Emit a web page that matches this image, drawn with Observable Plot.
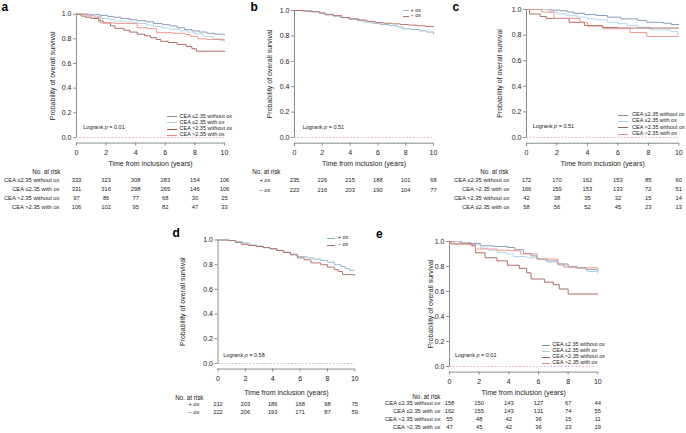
<!DOCTYPE html>
<html><head><meta charset="utf-8">
<script src="https://cdn.jsdelivr.net/npm/d3@7"></script>
<script src="https://cdn.jsdelivr.net/npm/@observablehq/plot@0.6"></script>
<style>
body{margin:0;background:#fff;}
#root{position:relative;width:686px;height:433px;overflow:hidden;font-family:'Liberation Sans',Arial,Helvetica,sans-serif;color:#222;}
.abs{position:absolute;white-space:nowrap;line-height:1;}
</style></head><body><div id="root"></div>
<script>
// ---------- shared ticks / text ----------
const timeTicks = [0, 2, 4, 6, 8, 10];
const survTicks = [0, 0.2, 0.4, 0.6, 0.8, 1.0];
const xTitle = "Time from inclusion (years)";
const yTitle = "Probability of overall survival";
const riskHeader = "No. at risk";

const groupsCEA = ["CEA ≤2.35 without ox", "CEA ≤2.35 with ox", "CEA >2.35 without ox", "CEA >2.35 with ox"];
const groupsOx = ["+ ox", "− ox"];
const colorsCEA = ["#7d92a8", "#a9d3e5", "#a15e5b", "#ef8b84"];
const colorsOx = ["#8ab3c6", "#b0695f"];

// ---------- panel a ----------
const aLeNoOx = [[0,1],[1.0,0.997],[1.6,0.99],[2.1,0.982],[2.5,0.975],[3.0,0.965],[3.6,0.955],[4.1,0.948],[4.7,0.938],[5.2,0.925],[5.8,0.915],[6.3,0.905],[6.8,0.89],[7.3,0.875],[7.8,0.865],[8.3,0.855],[8.8,0.845],[9.3,0.838],[10,0.835]];
const aLeOx = [[0,1],[0.8,0.995],[1.4,0.98],[1.7,0.965],[2.2,0.955],[2.6,0.943],[3.4,0.935],[4.1,0.925],[4.7,0.912],[5.2,0.9],[5.8,0.888],[6.3,0.878],[7.0,0.865],[7.5,0.855],[8.0,0.84],[8.6,0.82],[9.2,0.8],[9.7,0.785],[10,0.778]];
const aGtNoOx = [[0,1],[0.3,0.985],[0.6,0.975],[1.0,0.965],[1.5,0.945],[1.8,0.93],[2.3,0.905],[2.6,0.885],[3.2,0.87],[3.6,0.855],[4.1,0.838],[4.6,0.825],[5.0,0.81],[5.4,0.795],[5.7,0.78],[6.2,0.77],[6.8,0.755],[7.4,0.738],[7.8,0.72],[8.1,0.7],[10,0.698]];
const aGtOx = [[0,1],[0.7,0.987],[1.2,0.975],[1.6,0.93],[2.6,0.925],[4.1,0.89],[4.8,0.883],[5.4,0.85],[6.5,0.845],[7.4,0.835],[7.7,0.82],[8.2,0.8],[8.8,0.795],[10,0.795]];
const aRiskLabels = ["CEA ≤2.35 without ox", "CEA ≤2.35 with ox", "CEA >2.35 without ox", "CEA >2.35 with ox"];
const aRiskLeNoOx = [333, 323, 308, 283, 154, 106];
const aRiskLeOx = [331, 316, 298, 265, 146, 106];
const aRiskGtNoOx = [97, 86, 77, 68, 30, 25];
const aRiskGtOx = [106, 102, 95, 82, 47, 33];
const aP = "0.01";

// ---------- panel b ----------
const bPlusOx = [[0,1],[0.8,0.997],[1.3,0.99],[1.8,0.98],[2.2,0.965],[2.8,0.955],[3.3,0.945],[3.9,0.93],[4.5,0.92],[5.0,0.91],[5.6,0.9],[6.2,0.89],[6.8,0.88],[7.4,0.87],[7.8,0.855],[8.4,0.85],[9.0,0.84],[9.5,0.83],[10,0.815]];
const bMinusOx = [[0,1],[0.6,0.995],[1.2,0.99],[1.8,0.98],[2.2,0.97],[2.8,0.96],[3.4,0.945],[4.0,0.935],[4.6,0.925],[5.2,0.915],[5.8,0.905],[6.4,0.9],[7.0,0.895],[7.6,0.89],[8.2,0.885],[8.8,0.88],[9.4,0.875],[10,0.872]];
const bRiskPlus = [235, 226, 215, 188, 101, 68];
const bRiskMinus = [223, 216, 203, 190, 104, 77];
const bP = "0.51";

// ---------- panel c ----------
const cLeNoOx = [[0,1],[1.6,0.995],[2.2,0.99],[2.7,0.98],[3.1,0.97],[3.8,0.96],[4.6,0.953],[5.3,0.94],[6.2,0.927],[7.3,0.914],[7.9,0.9],[9.0,0.893],[9.5,0.883],[10,0.88]];
const cLeOx = [[0,1],[1.5,0.98],[2.0,0.966],[2.6,0.955],[3.3,0.94],[4.0,0.927],[4.6,0.92],[5.3,0.9],[6.0,0.89],[6.6,0.875],[7.3,0.862],[8.1,0.84],[9.5,0.83],[9.9,0.81],[10,0.81]];
const cGtNoOx = [[0,1],[0.2,0.965],[0.9,0.945],[1.3,0.93],[2.8,0.9],[3.8,0.875],[5.0,0.86],[6.0,0.855],[10,0.855]];
const cGtOx = [[0,1],[1.0,0.98],[1.8,0.93],[3.5,0.9],[4.0,0.87],[5.0,0.85],[6.8,0.82],[7.9,0.79],[10,0.79]];
const cRiskLabels = ["CEA ≤2.35 without ox", "CEA >2.35 with ox", "CEA >2.35 without ox", "CEA ≤2.35 with ox"];
const cRisk1 = [172, 170, 162, 153, 85, 60];
const cRisk2 = [166, 159, 153, 133, 72, 51];
const cRisk3 = [42, 38, 35, 32, 15, 14];
const cRisk4 = [58, 56, 52, 45, 23, 13];
const cP = "0.51";

// ---------- panel d ----------
const dPlusOx = [[0,1],[0.8,0.995],[1.3,0.985],[1.8,0.975],[2.3,0.96],[2.8,0.95],[3.3,0.94],[3.8,0.93],[4.3,0.915],[4.8,0.9],[5.3,0.885],[5.8,0.865],[6.5,0.855],[7.0,0.845],[7.5,0.835],[8.0,0.82],[8.5,0.8],[9.0,0.785],[9.3,0.77],[9.6,0.755],[10,0.755]];
const dMinusOx = [[0,1],[0.8,0.995],[1.3,0.98],[1.7,0.965],[2.2,0.955],[2.8,0.948],[3.3,0.938],[3.8,0.928],[4.3,0.915],[4.8,0.9],[5.3,0.88],[5.8,0.855],[6.3,0.84],[6.8,0.815],[7.5,0.8],[8.0,0.78],[8.5,0.76],[8.8,0.745],[9.1,0.72],[10,0.715]];
const dRiskPlus = [212, 203, 186, 168, 98, 75];
const dRiskMinus = [222, 206, 193, 171, 87, 59];
const dP = "0.58";

// ---------- panel e ----------
const eLeNoOx = [[0,1],[0.8,0.99],[1.4,0.985],[2.1,0.966],[3.0,0.96],[3.9,0.952],[4.4,0.935],[5.0,0.905],[5.5,0.885],[5.9,0.86],[6.5,0.845],[7.3,0.82],[8.0,0.8],[8.6,0.79],[9.2,0.775],[10,0.767]];
const eLeOx = [[0,1],[0.7,0.99],[1.3,0.975],[2.1,0.947],[2.6,0.93],[3.2,0.913],[3.8,0.9],[4.3,0.88],[5.2,0.87],[5.9,0.86],[6.6,0.835],[7.3,0.81],[8.0,0.795],[8.6,0.785],[9.3,0.76],[10,0.745]];
const eGtNoOx = [[0,1],[0.1,0.98],[1.5,0.966],[1.75,0.91],[2.4,0.87],[3.2,0.845],[3.9,0.81],[4.7,0.785],[5.2,0.75],[5.5,0.7],[6.4,0.675],[7.0,0.655],[7.4,0.62],[8.0,0.58],[10,0.58]];
const eGtOx = [[0,1],[0.3,0.985],[1.4,0.975],[1.75,0.94],[3.2,0.93],[4.1,0.926],[4.8,0.9],[5.9,0.86],[7.3,0.82],[7.7,0.795],[8.5,0.79],[10,0.785]];
const eRiskLeNoOx = [158, 150, 143, 127, 67, 44];
const eRiskLeOx = [162, 155, 143, 131, 74, 55];
const eRiskGtNoOx = [55, 48, 42, 36, 15, 11];
const eRiskGtOx = [47, 45, 42, 36, 23, 19];
const eP = "0.01";

// ---------- layout ----------
const W = 686, H = 433;
const FONT = "'Liberation Sans', Arial, Helvetica, sans-serif";
const yPad = 0.045;
const axisColor = "#6e6e6e";
const zeroDash = "#d9a9d6";
const root = document.getElementById("root");

const panels = [
  {letter: "a", names: groupsCEA, colors: colorsCEA,
   curves: [aLeNoOx, aLeOx, aGtNoOx, aGtOx],
   riskLabels: aRiskLabels, risk: [aRiskLeNoOx, aRiskLeOx, aRiskGtNoOx, aRiskGtOx], p: aP,
   L: {x0: 76, x10: 224, y1: 13.7, y0: 137, yLabelX: 52, titleY: 163, headerY: 171, headerRight: 60,
       rowsY: [179.5, 208], labelRight: 59, leg: {x1: 167, x2: 177, tx: 179.5, ys: [116.7, 135.3]},
       pl: {x: 83.3, y: 127.7}, lt: {x: 1.5, y: 11.2}}},
  {letter: "b", names: groupsOx, colors: colorsOx,
   curves: [bPlusOx, bMinusOx],
   riskLabels: groupsOx, risk: [bRiskPlus, bRiskMinus], p: bP,
   L: {x0: 294, x10: 433, y1: 10, y0: 137, yLabelX: 269.3, titleY: 163, headerY: 171, headerRight: 280,
       rowsY: [180, 190.5], labelRight: 270, leg: {x1: 403, x2: 409, tx: 410.5, ys: [10.7, 16]},
       pl: {x: 302.7, y: 128}, lt: {x: 250.5, y: 11}}},
  {letter: "c", names: groupsCEA, colors: colorsCEA,
   curves: [cLeNoOx, cLeOx, cGtNoOx, cGtOx],
   riskLabels: cRiskLabels, risk: [cRisk1, cRisk2, cRisk3, cRisk4], p: cP,
   L: {x0: 526, x10: 678.3, y1: 9, y0: 137, yLabelX: 499, titleY: 163, headerY: 171, headerRight: 508,
       rowsY: [179.3, 207.7], labelRight: 509, leg: {x1: 618, x2: 628, tx: 632, ys: [115, 134]},
       pl: {x: 532.7, y: 127}, lt: {x: 452.5, y: 11}}},
  {letter: "d", names: groupsOx, colors: colorsOx,
   curves: [dPlusOx, dMinusOx],
   riskLabels: groupsOx, risk: [dRiskPlus, dRiskMinus], p: dP,
   L: {x0: 217.5, x10: 354.3, y1: 239.5, y0: 363, yLabelX: 182.7, titleY: 392, headerY: 397, headerRight: 203,
       rowsY: [403.5, 412], labelRight: 199, leg: {x1: 327, x2: 335, tx: 337.7, ys: [238.3, 245]},
       pl: {x: 223.3, y: 356}, lt: {x: 172.5, y: 237.3}}},
  {letter: "e", names: groupsCEA, colors: colorsCEA,
   curves: [eLeNoOx, eLeOx, eGtNoOx, eGtOx],
   riskLabels: groupsCEA, risk: [eRiskLeNoOx, eRiskLeOx, eRiskGtNoOx, eRiskGtOx], p: eP,
   L: {x0: 449, x10: 597.3, y1: 241, y0: 366, yLabelX: 430, titleY: 392.3, headerY: 396.7, headerRight: 440,
       rowsY: [402.5, 427.5], labelRight: 440, leg: {x1: 542, x2: 550, tx: 552.3, ys: [345, 363]},
       pl: {x: 455, y: 355.7}, lt: {x: 376, y: 238.3}}}
];

function place(el) {
  el.style.position = "absolute"; el.style.left = "0px"; el.style.top = "0px";
  root.appendChild(el);
}
function div(html, x, y, size, extra) {
  const d = document.createElement("div");
  d.className = "abs";
  d.innerHTML = html;
  d.style.left = x + "px";
  d.style.top = y + "px";
  d.style.fontSize = size + "px";
  d.style.transform = "translateY(-50%)";
  if (extra) Object.assign(d.style, extra);
  root.appendChild(d);
  return d;
}
const baseStyle = {fontFamily: FONT, fontSize: "7px", color: "#222", background: "transparent", overflow: "visible"};
const tFirst = timeTicks[0], tLast = timeTicks[timeTicks.length - 1];
const sFirst = survTicks[0], sLast = survTicks[survTicks.length - 1];

for (const P of panels) {
  const L = P.L;
  const axisLineY = L.y0 + yPad * (L.y0 - L.y1);
  const pts = P.curves.flatMap((c, i) => c.map(([t, s]) => ({t, s, g: P.names[i]})));

  const chart = Plot.plot({
    width: W, height: H,
    marginLeft: L.x0, marginRight: W - L.x10, marginTop: L.y1, marginBottom: H - axisLineY,
    x: {domain: [tFirst, tLast]},
    y: {domain: [sFirst - yPad, sLast]},
    color: {domain: P.names, range: P.colors},
    style: baseStyle,
    marks: [
      Plot.ruleY([sFirst], {x1: tFirst, x2: tLast, stroke: zeroDash, strokeWidth: 0.8, strokeDasharray: "2,1.5"}),
      Plot.ruleX([tFirst], {y1: sFirst, y2: sLast, stroke: axisColor, strokeWidth: 0.8}),
      Plot.ruleY([sFirst - yPad], {x1: tFirst, x2: tLast, stroke: axisColor, strokeWidth: 0.8}),
      Plot.axisX({ticks: timeTicks, tickSize: 3, tickPadding: 3.5, label: null, stroke: axisColor, fill: "#222", strokeWidth: 0.8}),
      Plot.axisY({ticks: survTicks, tickSize: 3, tickPadding: 2, tickFormat: ".1f", label: null, stroke: axisColor, fill: "#222", strokeWidth: 0.8}),
      Plot.line(pts, {x: "t", y: "s", z: "g", stroke: "g", curve: "step-after", strokeWidth: 0.9}),
      Plot.text([xTitle], {frameAnchor: "bottom", textAnchor: "middle", lineAnchor: "middle", dy: L.titleY - axisLineY, fontSize: 7}),
      Plot.text([yTitle], {frameAnchor: "left", textAnchor: "middle", lineAnchor: "middle", rotate: -90, dx: L.yLabelX - L.x0,
        dy: (L.y1 + L.y0) / 2 - (L.y1 + axisLineY) / 2, fontSize: 7})
    ]
  });
  place(chart);

  const cells = P.risk.flatMap((r, i) => r.map((n, j) => ({t: timeTicks[j], n, g: P.riskLabels[i]})));
  const table = Plot.plot({
    width: W, height: H,
    marginLeft: L.x0, marginRight: W - L.x10, marginTop: L.rowsY[0], marginBottom: H - L.rowsY[1],
    x: {domain: [tFirst, tLast], axis: null},
    y: {type: "point", domain: P.riskLabels, padding: 0, axis: null},
    style: baseStyle,
    marks: [
      Plot.text(cells, {x: "t", y: "g", text: d => String(d.n), fontSize: 5.8}),
      Plot.text(P.riskLabels, {y: d => d, frameAnchor: "left", textAnchor: "end", lineAnchor: "middle", dx: L.labelRight - L.x0, fontSize: 5.8}),
      Plot.text([riskHeader], {frameAnchor: "top-left", textAnchor: "end", lineAnchor: "middle", dx: L.headerRight - L.x0, dy: L.headerY - L.rowsY[0], fontSize: 6.3})
    ]
  });
  place(table);

  // legend
  const n = P.names.length;
  P.names.forEach((nm, i) => {
    const y = L.leg.ys[0] + (n > 1 ? i * (L.leg.ys[1] - L.leg.ys[0]) / (n - 1) : 0);
    const ln = document.createElement("div");
    ln.style.cssText = `position:absolute;left:${L.leg.x1}px;top:${y - 0.5}px;width:${L.leg.x2 - L.leg.x1}px;height:1px;background:${P.colors[i]}`;
    root.appendChild(ln);
    div(nm, L.leg.tx, y, 5.5);
  });
  div(`Logrank <i>p</i> = ${P.p}`, L.pl.x, L.pl.y, 5.5);
  // panel letter (baseline at lt.y)
  div(P.letter, L.lt.x, L.lt.y - 4.3, 12, {fontWeight: "bold", color: "#000"});
}
</script></body></html>
